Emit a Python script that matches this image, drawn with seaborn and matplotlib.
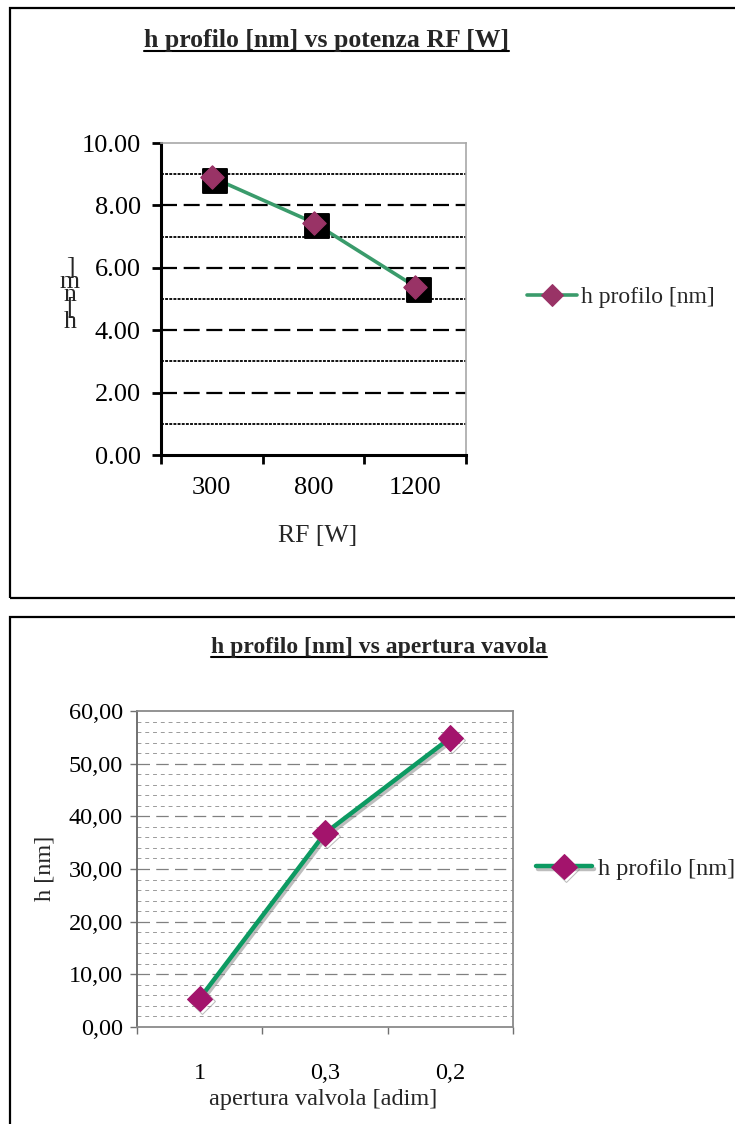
import numpy as np
import pandas as pd
import matplotlib
matplotlib.use("Agg")
import matplotlib.pyplot as plt
import seaborn as sns
from matplotlib.patches import Rectangle
from matplotlib.lines import Line2D
import matplotlib.patheffects as pe
from matplotlib.ticker import FixedLocator, MultipleLocator, NullFormatter, FuncFormatter
from matplotlib.transforms import ScaledTranslation

# ---------------- data ----------------
rf_labels = ["300", "800", "1200"]
h_rf = [8.90, 7.45, 5.40]
valve_labels = ["1", "0,3", "0,2"]
h_valve = [5.4, 36.8, 54.9]
series_name = "h profilo [nm]"
title_top = "h profilo [nm] vs potenza RF [W]"
title_bottom = "h profilo [nm] vs apertura vavola"
xlabel_top = "RF [W]"
xlabel_bottom = "apertura valvola [adim]"
ylabel = "h [nm]"

sns.set_theme(style="white")
plt.rcParams['font.family'] = ['Liberation Serif', 'DejaVu Serif']

W, H = 735, 1124
fig = plt.figure(figsize=(W / 100, H / 100), dpi=100)
fig.patch.set_facecolor("white")

def fx(px):
    return px / W

def fy(py):
    return 1 - py / H

# panel frames
fig.patches.append(Rectangle((fx(10), fy(598)), fx(800) - fx(10), fy(8) - fy(598),
                             transform=fig.transFigure, fill=False, lw=1.6, ec="black"))
fig.patches.append(Rectangle((fx(10), fy(1160)), fx(800) - fx(10), fy(617) - fy(1160),
                             transform=fig.transFigure, fill=False, lw=1.6, ec="black"))

# ================= TOP CHART =================
ax1 = fig.add_axes([fx(161), fy(455), fx(466) - fx(161), (455 - 143) / H])
df1 = pd.DataFrame({"RF": rf_labels, "h": h_rf})

sns.lineplot(data=df1, x="RF", y="h", sort=False, color="#3a9b6b", lw=2.6,
             marker="D", markersize=11, markerfacecolor="#993366",
             markeredgecolor="#993366", label=series_name, ax=ax1, zorder=3)
sns.scatterplot(data=df1, x="RF", y="h", marker="s", s=290, color="black",
                edgecolor="black", legend=False, ax=ax1, zorder=4)
ax1.collections[-1].set_offset_transform(
    ax1.transData + ScaledTranslation(2.5 / 72, -2.5 / 72, fig.dpi_scale_trans))
sns.scatterplot(data=df1, x="RF", y="h", marker="D", s=140, color="#993366",
                edgecolor="#993366", legend=False, ax=ax1, zorder=5)

ax1.set_xlim(-0.5, 2.5)
ax1.set_ylim(0, 10)
ax1.set_xticks([-0.5, 0.5, 1.5, 2.5])
ax1.xaxis.set_major_formatter(NullFormatter())
ax1.set_xticks([0, 1, 2], labels=rf_labels, minor=True)
ax1.set_yticks([0, 2, 4, 6, 8, 10])
ax1.yaxis.set_major_formatter(FuncFormatter(lambda v, p: f"{v:.2f}"))
ax1.yaxis.set_minor_locator(FixedLocator([1, 3, 5, 7, 9]))
ax1.tick_params(axis="y", which="major", direction="out", length=6.5, width=2,
                color="black", labelsize=19, pad=8, left=True)
ax1.tick_params(axis="y", which="minor", length=0, left=False)
ax1.tick_params(axis="x", which="major", direction="out", length=6.5, width=2,
                color="black", bottom=True)
ax1.tick_params(axis="x", which="minor", length=0, labelsize=19, pad=16)
for lab in ax1.get_yticklabels() + ax1.get_xticklabels(minor=True):
    lab.set_color("black")

ax1.grid(False)
ax1.grid(axis="y", which="major", color="black", lw=1.6, ls=(0, (7.2, 3.0)))
ax1.grid(axis="y", which="minor", color="black", lw=1.3, ls=(0, (1.6, 0.7)))
ax1.set_axisbelow(True)
yt = ax1.yaxis.get_major_ticks()
yt[0].gridline.set_visible(False)
yt[-1].gridline.set_visible(False)

for s in ["left", "bottom"]:
    ax1.spines[s].set_color("black")
    ax1.spines[s].set_linewidth(2.2)
for s in ["top", "right"]:
    ax1.spines[s].set_color("#a8a8a8")
    ax1.spines[s].set_linewidth(1.2)
ax1.set_xlabel("")
ax1.set_ylabel("")

ax1.legend(loc="center left", bbox_to_anchor=(fx(527), fy(297)),
           bbox_transform=fig.transFigure, frameon=False, fontsize=17,
           handlelength=2.1, handletextpad=0.2, borderpad=0, borderaxespad=0)

fig.text(fx(318), fy(536), xlabel_top, ha="center", va="center", fontsize=18.5)
fig.text(fx(70), fy(295), "]\nm\nn\n[\nh", ha="center", va="center",
         fontsize=18.5, linespacing=0.5)

# ================= BOTTOM CHART =================
ax2 = fig.add_axes([fx(137), fy(1027), fx(513) - fx(137), (1027 - 711) / H])
df2 = pd.DataFrame({"apertura": valve_labels, "h": h_valve})

shadow = [pe.SimpleLineShadow(offset=(1.5, -1.8), shadow_color="#888888", alpha=0.55),
          pe.Normal()]
sns.lineplot(data=df2, x="apertura", y="h", sort=False, color="#0c9a62", lw=3.2,
             marker="D", markersize=13, markerfacecolor="#a3146c",
             markeredgecolor="#a3146c", label=series_name, ax=ax2, zorder=3,
             path_effects=shadow)

ax2.set_xlim(-0.5, 2.5)
ax2.set_ylim(0, 60)
ax2.set_xticks([-0.5, 0.5, 1.5, 2.5])
ax2.xaxis.set_major_formatter(NullFormatter())
ax2.set_xticks([0, 1, 2], labels=valve_labels, minor=True)
ax2.set_yticks(np.arange(0, 61, 10))
ax2.yaxis.set_major_formatter(FuncFormatter(lambda v, p: f"{v:.2f}".replace(".", ",")))
ax2.yaxis.set_minor_locator(MultipleLocator(2))
ax2.tick_params(axis="y", which="major", direction="out", length=5, width=1,
                color="#707070", labelsize=17.5, pad=5, left=True)
ax2.tick_params(axis="y", which="minor", length=0, left=False)
ax2.tick_params(axis="x", which="major", direction="out", length=5, width=1,
                color="#707070", bottom=True)
ax2.tick_params(axis="x", which="minor", length=0, labelsize=17.5, pad=26)
for lab in ax2.get_yticklabels() + ax2.get_xticklabels(minor=True):
    lab.set_color("black")

ax2.grid(False)
ax2.grid(axis="y", which="major", color="#808080", lw=0.9, ls=(0, (10, 5)))
ax2.grid(axis="y", which="minor", color="#9a9a9a", lw=0.7, ls=(0, (4, 4)))
ax2.set_axisbelow(True)
yt2 = ax2.yaxis.get_major_ticks()
yt2[0].gridline.set_visible(False)
yt2[-1].gridline.set_visible(False)
for s in ["left", "bottom", "top", "right"]:
    ax2.spines[s].set_color("#8a8a8a")
    ax2.spines[s].set_linewidth(1.3)
ax2.spines["left"].set_color("#666666")
ax2.set_xlabel("")
ax2.set_ylabel("")

ax2.legend(loc="center left", bbox_to_anchor=(fx(536), fy(869)),
           bbox_transform=fig.transFigure, frameon=False, fontsize=17.5,
           handlelength=2.3, handletextpad=0.25, borderpad=0, borderaxespad=0)

fig.text(fx(323), fy(1099), xlabel_bottom, ha="center", va="center", fontsize=17.5)
fig.text(fx(45), fy(868), ylabel, ha="center", va="center", fontsize=17.5, rotation=90)

# ================= titles (bold, underlined) =================
t1 = fig.text(fx(326), fy(41), title_top, ha="center", va="center",
              fontsize=18.5, weight="bold")
t2 = fig.text(fx(379), fy(648), title_bottom, ha="center", va="center",
              fontsize=17, weight="bold")
fig.canvas.draw()
r = fig.canvas.get_renderer()
for t in (t1, t2):
    bb = t.get_window_extent(r)
    yline = (bb.y0 + 1.5) / fig.bbox.height
    fig.add_artist(Line2D([bb.x0 / fig.bbox.width, bb.x1 / fig.bbox.width], [yline, yline],
                          transform=fig.transFigure, color="black", lw=1.5))

fig.savefig("out.png", dpi=100)
